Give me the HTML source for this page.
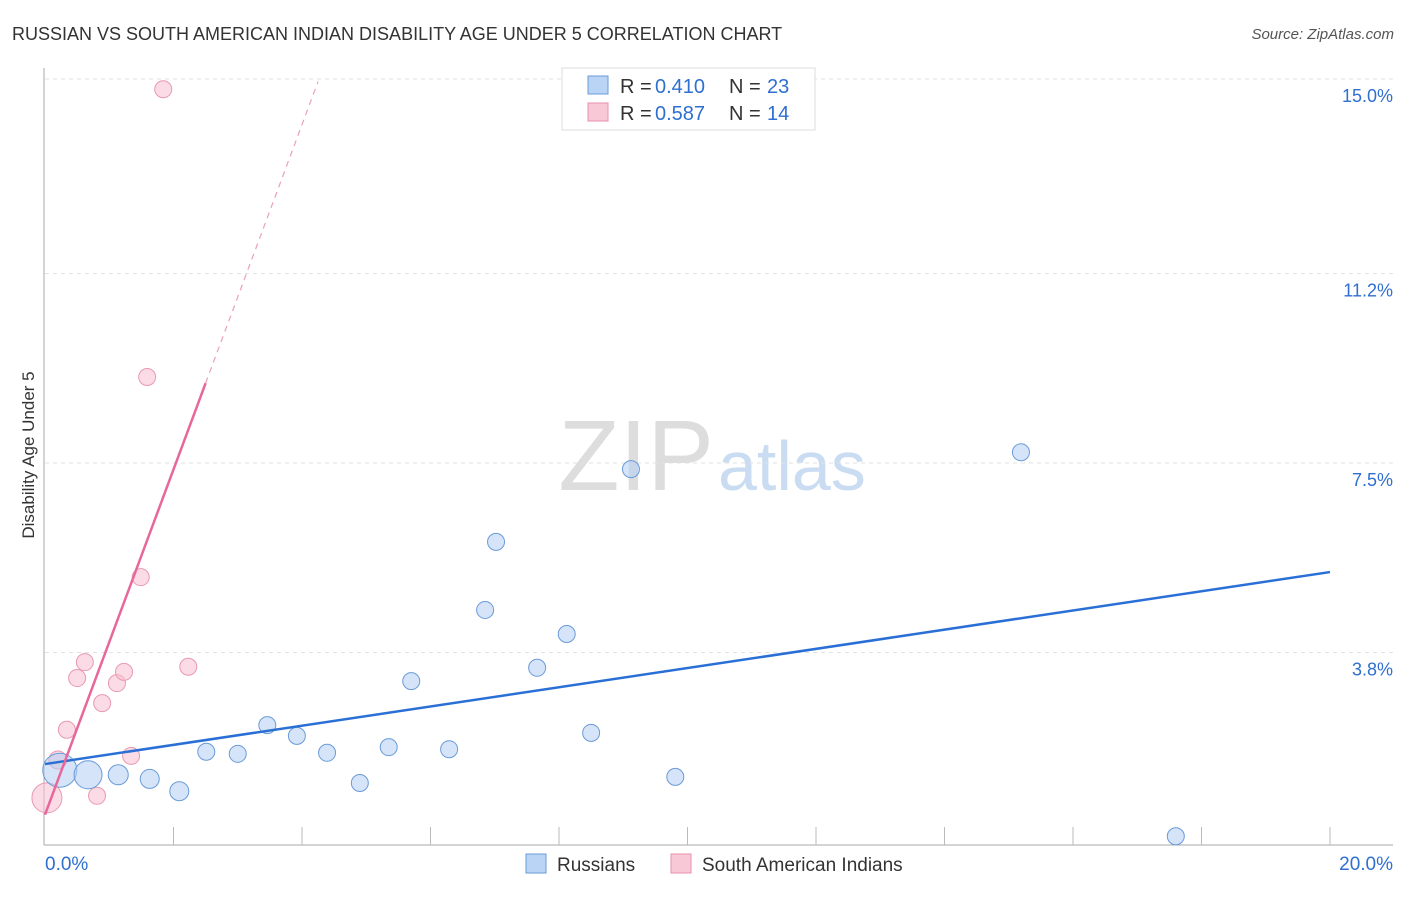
<!DOCTYPE html>
<html><head><meta charset="utf-8"><style>
body{margin:0;background:#fff;font-family:"Liberation Sans",sans-serif;}
svg text{font-family:"Liberation Sans",sans-serif;}
</style></head><body>
<svg id="chart" width="1406" height="892" xmlns="http://www.w3.org/2000/svg">
<text x="12" y="40" font-size="18" fill="#333">RUSSIAN VS SOUTH AMERICAN INDIAN DISABILITY AGE UNDER 5 CORRELATION CHART</text>
<text x="1394" y="39" font-size="15" fill="#555" font-style="italic" text-anchor="end">Source: ZipAtlas.com</text>
<text x="34" y="455" font-size="17" fill="#333" text-anchor="middle" transform="rotate(-90 34 455)">Disability Age Under 5</text>
<text x="714" y="490" font-size="100" fill="#ddd" text-anchor="end" font-family="Liberation Serif">ZIP</text>
<text x="718" y="490" font-size="70" fill="#c9dcf2">atlas</text>
<g id="grid"></g><g id="marks"></g>
<g>
<rect x="562" y="68" width="253" height="62" fill="#fff" stroke="#ddd"/>
<rect x="588" y="76" width="20" height="18" fill="#b9d4f5" stroke="#6a9bd8"/>
<rect x="588" y="103" width="20" height="18" fill="#f9c8d6" stroke="#e690ab"/>
<text x="620" y="93" font-size="20" fill="#333">R =</text><text x="655" y="93" font-size="20" fill="#2f6fd0">0.410</text>
<text x="729" y="93" font-size="20" fill="#333">N =</text><text x="767" y="93" font-size="20" fill="#2f6fd0">23</text>
<text x="620" y="120" font-size="20" fill="#333">R =</text><text x="655" y="120" font-size="20" fill="#2f6fd0">0.587</text>
<text x="729" y="120" font-size="20" fill="#333">N =</text><text x="767" y="120" font-size="20" fill="#2f6fd0">14</text>
</g>
<g>
<rect x="526" y="854" width="20" height="19" fill="#b9d4f5" stroke="#6a9bd8"/>
<text x="557" y="871" font-size="19" fill="#333">Russians</text>
<rect x="671" y="854" width="20" height="19" fill="#f9c8d6" stroke="#e690ab"/>
<text x="702" y="871" font-size="19" fill="#333">South American Indians</text>
</g>
</svg>
<script>
const blueX=[0.23,0.67,1.14,1.63,2.09,2.51,3.00,3.46,3.92,4.39,4.90,5.35,5.70,6.29,6.85,7.02,7.66,8.12,8.50,9.12,9.81,15.19,17.60];
const blueY=[1.50,1.41,1.41,1.33,1.09,1.86,1.82,2.38,2.17,1.84,1.25,1.95,3.24,1.91,4.63,5.96,3.50,4.16,2.23,7.38,1.37,7.71,0.21];
const blueR=[17,14,10,9.5,9.5,8.5,8.5,8.5,8.5,8.5,8.5,8.5,8.5,8.5,8.5,8.5,8.5,8.5,8.5,8.5,8.5,8.5,8.5];
const pinkX=[0.03,0.20,0.34,0.50,0.62,0.81,0.89,1.12,1.23,1.34,1.49,1.59,1.84,2.23];
const pinkY=[0.96,1.70,2.29,3.30,3.61,1.00,2.81,3.20,3.42,1.78,5.27,9.18,14.80,3.52];
const pinkR=[15,9,8.5,8.5,8.5,8.5,8.5,8.5,8.5,8.5,8.5,8.5,8.5,8.5];
const yTicks=[3.8,7.5,11.2,15.0];
const yTickLabels=["3.8%","7.5%","11.2%","15.0%"];
const xTicks=[0,2,4,6,8,10,12,14,16,18,20];
const blueTrend=[[0,1.62],[20,5.37]];
const pinkTrend=[[0,0.63],[2.5,9.06],[4.25,14.95]];
const NS="http://www.w3.org/2000/svg";
const sx=v=>45+v*64.25, sy=v=>847-v*51.2;
function mk(t,a,p){const e=document.createElementNS(NS,t);for(const k in a)e.setAttribute(k,a[k]);p.appendChild(e);return e;}
const g=document.getElementById('grid'), m=document.getElementById('marks');
yTicks.forEach((t,i)=>{
 const l=mk('line',{x1:45,x2:1393,y1:sy(t),y2:sy(t),stroke:'#e2e2e2','stroke-dasharray':'4,4'},g);
 
 
 const tx=mk('text',{x:1393,y:sy(t)+23,'font-size':18,fill:'#2f6fd0','text-anchor':'end'},g);tx.textContent=yTickLabels[i];
 
 
});
mk('line',{x1:44,x2:44,y1:68,y2:845,stroke:'#aaa'},g);
mk('line',{x1:44,x2:1393,y1:845,y2:845,stroke:'#aaa'},g);
xTicks.forEach(t=>{if(t>0){const l=mk('line',{x1:sx(t),x2:sx(t),y1:827,y2:845,stroke:'#bbb'},g);
 
 }});
let t1=mk('text',{x:45,y:870,'font-size':19,fill:'#2f6fd0'},g);t1.textContent="0.0%";


let t2=mk('text',{x:1393,y:870,'font-size':19,fill:'#2f6fd0','text-anchor':'end'},g);t2.textContent="20.0%";


pinkX.forEach((x,i)=>{const c=mk('circle',{cx:sx(x),cy:sy(pinkY[i]),r:pinkR[i],fill:'rgba(248,190,208,0.55)',stroke:'#e89ab2','stroke-width':1},m);
 
 });
blueX.forEach((x,i)=>{const c=mk('circle',{cx:sx(x),cy:sy(blueY[i]),r:blueR[i],fill:'rgba(178,205,242,0.55)',stroke:'#6a9bd8','stroke-width':1},m);
 
 });
let bl=mk('line',{x1:sx(blueTrend[0][0]),y1:sy(blueTrend[0][1]),x2:sx(blueTrend[1][0]),y2:sy(blueTrend[1][1]),stroke:'#2a6fd6','stroke-width':2.5},m);


let pl=mk('line',{x1:sx(pinkTrend[0][0]),y1:sy(pinkTrend[0][1]),x2:sx(pinkTrend[1][0]),y2:sy(pinkTrend[1][1]),stroke:'#e8679a','stroke-width':2.5},m);


let pd=mk('line',{x1:sx(pinkTrend[1][0]),y1:sy(pinkTrend[1][1]),x2:sx(pinkTrend[2][0]),y2:sy(pinkTrend[2][1]),stroke:'#eaa0bb','stroke-width':1.2,'stroke-dasharray':'6,5'},m);


</script>
</body></html>
